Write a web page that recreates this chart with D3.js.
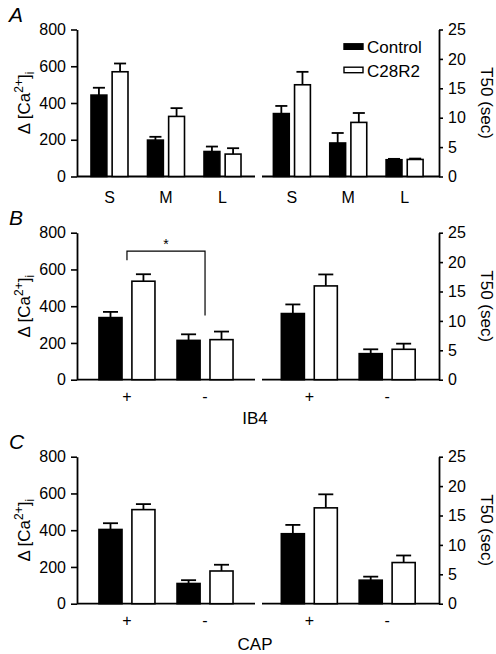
<!DOCTYPE html>
<html><head><meta charset="utf-8">
<script src="https://cdn.jsdelivr.net/npm/d3@7"></script>
<style>
body{margin:0;background:#fff;}
svg text{font-family:"Liberation Sans",Arial,Helvetica,sans-serif;fill:#000;}
</style></head><body>
<svg id="chart" width="496" height="654"></svg>
<script>
// ---------- data ----------
const sizeGroups = ["S", "M", "L"];
const pmGroups = ["+", "-"];
const seriesNames = ["Control", "C28R2"];
const caTicks = [0, 200, 400, 600, 800];
const t50Ticks = [0, 5, 10, 15, 20, 25];
const panelLetters = ["A", "B", "C"];
const xTitles = ["", "IB4", "CAP"];
const caLabel = "Δ [Ca";
const t50Label = "T50 (sec)";

// Panel A (S / M / L)
const aCaControl = [443, 198, 136], aCaControlErr = [40, 18, 27];
const aCaC28R2 = [570, 327, 122], aCaC28R2Err = [45, 45, 32];
const aT50Control = [10.7, 5.7, 2.85], aT50ControlErr = [1.3, 1.7, 0.15];
const aT50C28R2 = [15.6, 9.2, 2.9], aT50C28R2Err = [2.2, 1.6, 0.15];
// Panel B (IB4 + / -)
const bCaControl = [338, 214], bCaControlErr = [31, 33];
const bCaC28R2 = [536, 218], bCaC28R2Err = [38, 44];
const bT50Control = [11.25, 4.43], bT50ControlErr = [1.55, 0.74];
const bT50C28R2 = [15.95, 5.17], bT50C28R2Err = [1.95, 0.96];
// Panel C (CAP + / -)
const cCaControl = [404, 110], cCaControlErr = [34, 18];
const cCaC28R2 = [512, 178], cCaC28R2Err = [30, 34];
const cT50Control = [11.9, 4.0], cT50ControlErr = [1.5, 0.6];
const cT50C28R2 = [16.3, 7.0], cT50C28R2Err = [2.3, 1.2];
// significance bracket in B (Ca axis units)
const sigTop = 700, sigLeftBottom = 650, sigRightBottom = 350, sigMark = "*";

// ---------- layout ----------
const svg = d3.select("#chart");
const panelTops = [29.5, 232.7, 456.7];
const plotH = 147;
const leftX = [77, 255], rightX = [262, 439];
const rightBarX = [259.5, 437];
const tickFont = 16, labelFont = 17;

const panels = [
  {groups: sizeGroups, pad: 0.575, sub: 18.5,
   ca: [aCaControl, aCaControlErr, aCaC28R2, aCaC28R2Err],
   t50: [aT50Control, aT50ControlErr, aT50C28R2, aT50C28R2Err], labOff: 26.5},
  {groups: pmGroups, pad: 0.64, sub: 28,
   ca: [bCaControl, bCaControlErr, bCaC28R2, bCaC28R2Err],
   t50: [bT50Control, bT50ControlErr, bT50C28R2, bT50C28R2Err], labOff: 22.5},
  {groups: pmGroups, pad: 0.64, sub: 28,
   ca: [cCaControl, cCaControlErr, cCaC28R2, cCaC28R2Err],
   t50: [cT50Control, cT50ControlErr, cT50C28R2, cT50C28R2Err], labOff: 22.5}
];

function drawBars(g, p, vals, y, range, y0) {
  const x = d3.scalePoint().domain(p.groups).range(range).padding(p.pad);
  const xs = d3.scaleBand().domain(seriesNames).range([-p.sub, p.sub]).paddingInner(p.sub > 20 ? 0.3 : 0.25);
  const bw = xs.bandwidth();
  const capHalf = Math.min(7.5, bw * 0.38);
  seriesNames.forEach((s, si) => {
    const v = vals[si * 2], e = vals[si * 2 + 1];
    const gg = g.append("g");
    p.groups.forEach((grp, i) => {
      const cx = x(grp) + xs(s) + bw / 2;
      gg.append("line").attr("x1", cx).attr("x2", cx)
        .attr("y1", y(v[i])).attr("y2", y(v[i] + e[i]))
        .attr("stroke", "#000").attr("stroke-width", 1.8);
      gg.append("line").attr("x1", cx - capHalf).attr("x2", cx + capHalf)
        .attr("y1", y(v[i] + e[i])).attr("y2", y(v[i] + e[i]))
        .attr("stroke", "#000").attr("stroke-width", 1.8);
      gg.append("rect").attr("x", x(grp) + xs(s)).attr("width", bw)
        .attr("y", y(v[i])).attr("height", y0 - y(v[i]))
        .attr("fill", si === 0 ? "#000" : "#fff")
        .attr("stroke", "#000").attr("stroke-width", 1.6);
    });
  });
  return x;
}

panels.forEach((p, pi) => {
  const top = panelTops[pi], bottom = top + plotH;
  const yCa = d3.scaleLinear().domain([0, 800]).range([bottom, top]);
  const yT = d3.scaleLinear().domain([0, 25]).range([bottom, top]);
  const g = svg.append("g");

  // baselines
  g.append("line").attr("x1", leftX[0]).attr("x2", leftX[1]).attr("y1", bottom).attr("y2", bottom)
    .attr("stroke", "#000").attr("stroke-width", 1.8);
  g.append("line").attr("x1", rightX[0]).attr("x2", rightX[1]).attr("y1", bottom).attr("y2", bottom)
    .attr("stroke", "#000").attr("stroke-width", 1.8);

  const xl = drawBars(g, p, p.ca, yCa, leftX, bottom);
  const xr = drawBars(g, p, p.t50, yT, rightBarX, bottom);

  // axes
  const axL = g.append("g").attr("transform", `translate(${leftX[0]},0)`)
    .call(d3.axisLeft(yCa).tickValues(caTicks).tickSize(6).tickSizeOuter(0).tickPadding(5));
  const axR = g.append("g").attr("transform", `translate(${rightX[1]},0)`)
    .call(d3.axisRight(yT).tickValues(t50Ticks).tickSize(4).tickSizeOuter(0).tickPadding(5));
  [axL, axR].forEach(a => {
    a.select(".domain").attr("stroke-width", 1.8);
    a.selectAll(".tick line").attr("stroke-width", 1.6);
    a.selectAll("text").attr("font-size", tickFont).attr("fill", "#000")
      .attr("font-family", "Liberation Sans, Arial, sans-serif");
  });

  // x category labels
  [xl, xr].forEach(x => {
    g.selectAll(null).data(p.groups).enter().append("text")
      .attr("x", d => x(d)).attr("y", bottom + p.labOff)
      .attr("text-anchor", "middle").attr("font-size", tickFont).text(d => d);
  });

  // y labels
  const mid = (top + bottom) / 2;
  const tl = g.append("text").attr("transform", `translate(30,${mid}) rotate(-90)`)
    .attr("text-anchor", "middle").attr("font-size", labelFont);
  tl.append("tspan").text(caLabel);
  tl.append("tspan").attr("font-size", 12).attr("dy", -7).text("2+");
  tl.append("tspan").attr("dy", 7).text("]");
  tl.append("tspan").attr("font-size", 12).attr("dy", 4).text("i");
  g.append("text").attr("transform", `translate(481,${mid}) rotate(90)`)
    .attr("text-anchor", "middle").attr("font-size", labelFont).text(t50Label);

  // panel letter
  g.append("text").attr("x", 9).attr("y", top - 7.8).attr("font-size", 21)
    .attr("font-style", "italic").text(panelLetters[pi]);

  // x title
  if (xTitles[pi]) {
    g.append("text").attr("x", 255).attr("y", bottom + (pi === 1 ? 44 : 46.5))
      .attr("text-anchor", "middle").attr("font-size", labelFont).text(xTitles[pi]);
  }

  // legend (A only)
  if (pi === 0) {
    seriesNames.forEach((s, si) => {
      const by = 53.3 + si * 23.4;
      g.append("rect").attr("x", 344).attr("y", by - 9.5).attr("width", 19).attr("height", 5.5)
        .attr("fill", si === 0 ? "#000" : "#fff").attr("stroke", "#000").attr("stroke-width", 1.4);
      g.append("text").attr("x", 367).attr("y", by).attr("font-size", labelFont).text(s);
    });
  }

  // significance bracket (B only)
  if (pi === 1) {
    const x1 = xl(pmGroups[0]), x2 = xl(pmGroups[1]);
    g.append("path")
      .attr("d", `M${x1},${yCa(sigLeftBottom)}V${yCa(sigTop)}H${x2}V${yCa(sigRightBottom)}`)
      .attr("fill", "none").attr("stroke", "#000").attr("stroke-width", 1.2);
    g.append("text").attr("x", (x1 + x2) / 2).attr("y", yCa(sigTop) - 2)
      .attr("text-anchor", "middle").attr("font-size", 14).text(sigMark);
  }
});
</script>
</body></html>
